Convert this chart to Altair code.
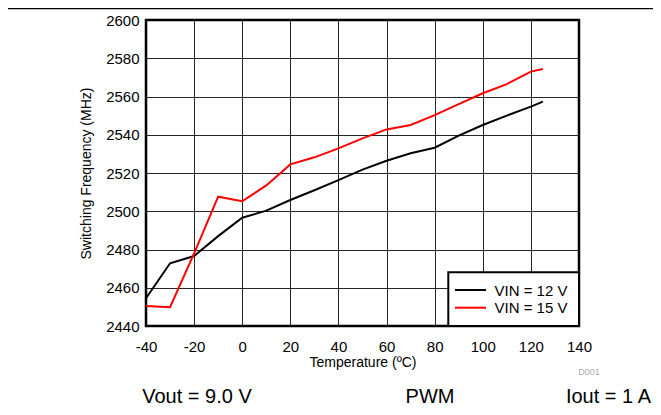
import altair as alt
import pandas as pd

temps = [-40, -30, -20, -10, 0, 10, 20, 30, 40, 50, 60, 70, 80, 90, 100, 110, 120, 125]
vin12 = [2454.5, 2472.8, 2476.6, 2487.0, 2496.6, 2500.3, 2505.9, 2511.0, 2516.3, 2521.8,
         2526.4, 2530.3, 2533.2, 2539.5, 2545.1, 2550.0, 2554.7, 2557.3]
vin15 = [2450.5, 2449.8, 2478.0, 2507.6, 2505.2, 2513.5, 2524.5, 2528.2, 2532.9, 2538.1,
         2542.8, 2545.1, 2550.3, 2556.0, 2561.7, 2566.5, 2573.0, 2574.4]
series = ["VIN = 12 V", "VIN = 15 V"]
colors = ["#000000", "#ff0000"]
x_ticks = [-40, -20, 0, 20, 40, 60, 80, 100, 120, 140]
y_ticks = [2440, 2460, 2480, 2500, 2520, 2540, 2560, 2580, 2600]
notes = ["Vout = 9.0 V", "PWM", "Iout = 1 A"]

rows = []
for name, vals in zip(series, [vin12, vin15]):
    for t, v in zip(temps, vals):
        rows.append({"T": t, "F": v, "series": name})
df = pd.DataFrame(rows)

FONT = "Liberation Sans"

lines = alt.Chart(df).mark_line(strokeWidth=2).encode(
    x=alt.X("T:Q", scale=alt.Scale(domain=[-40, 140], nice=False),
            axis=alt.Axis(values=x_ticks, title="Temperature (ºC)", ticks=False,
                          labelExpr="'' + datum.value",
                          labelPadding=13, titlePadding=1, grid=True,
                          labelFlush=False, labelOverlap=False, labelBound=False)),
    y=alt.Y("F:Q", scale=alt.Scale(domain=[2440, 2600], nice=False),
            axis=alt.Axis(values=y_ticks, title="Switching Frequency (MHz)", ticks=False,
                          labelExpr="'' + datum.value",
                          labelPadding=7, titlePadding=12, grid=True,
                          labelFlush=False, labelOverlap=False, labelBound=False)),
    color=alt.Color("series:N", scale=alt.Scale(domain=series, range=colors), legend=None),
)

# legend box (decoration)
one = pd.DataFrame({"a": [0]})
legend_box = alt.Chart(one).mark_rect(fill="white", stroke="black", strokeWidth=2).encode(
    x=alt.value(302.3), x2=alt.value(433), y=alt.value(252.3), y2=alt.value(306))
legend_parts = [legend_box]
for name, col, ly in zip(series, colors, [270, 287.7]):
    legend_parts.append(alt.Chart(one).mark_rule(color=col, strokeWidth=2).encode(
        x=alt.value(309), x2=alt.value(340), y=alt.value(ly)))
    legend_parts.append(alt.Chart(pd.DataFrame({"t": [name]})).mark_text(
        font=FONT, fontSize=15, align="left", baseline="middle", color="black"
    ).encode(x=alt.value(348.5), y=alt.value(ly + 0.5), text="t:N"))

note_marks = []
for txt, px, al in zip(notes, [51, 284, 505], ["center", "center", "right"]):
    note_marks.append(
        alt.Chart(pd.DataFrame({"t": [txt]})).mark_text(
            font=FONT, fontSize=20, align=al, baseline="alphabetic", color="black"
        ).encode(x=alt.value(px), y=alt.value(383), text="t:N")
    )

d001 = alt.Chart(pd.DataFrame({"t": ["D001"]})).mark_text(
    font=FONT, fontSize=9, color="#aaaaaa", align="center"
).encode(x=alt.value(443), y=alt.value(352), text="t:N")

top_line = alt.Chart(one).mark_rule(color="black", strokeWidth=1.5).encode(
    x=alt.value(-138), x2=alt.value(507), y=alt.value(-11.5))

chart = alt.layer(lines, *legend_parts, d001, top_line, *note_marks).properties(
    width=433, height=306,
    padding={"left": 138, "top": 12, "right": 74, "bottom": 83},
    autosize=alt.AutoSizeParams(type="none"),
).configure_view(stroke="black", strokeWidth=2.5).configure_axis(
    labelFont=FONT, labelFontSize=15, labelColor="black",
    titleFont=FONT, titleFontSize=14, titleColor="black", titleFontWeight="normal",
    gridColor="#000000", gridOpacity=0.85, gridWidth=1, domain=False,
)

chart.save("out.html", embed_options={"renderer": "svg", "actions": False})
